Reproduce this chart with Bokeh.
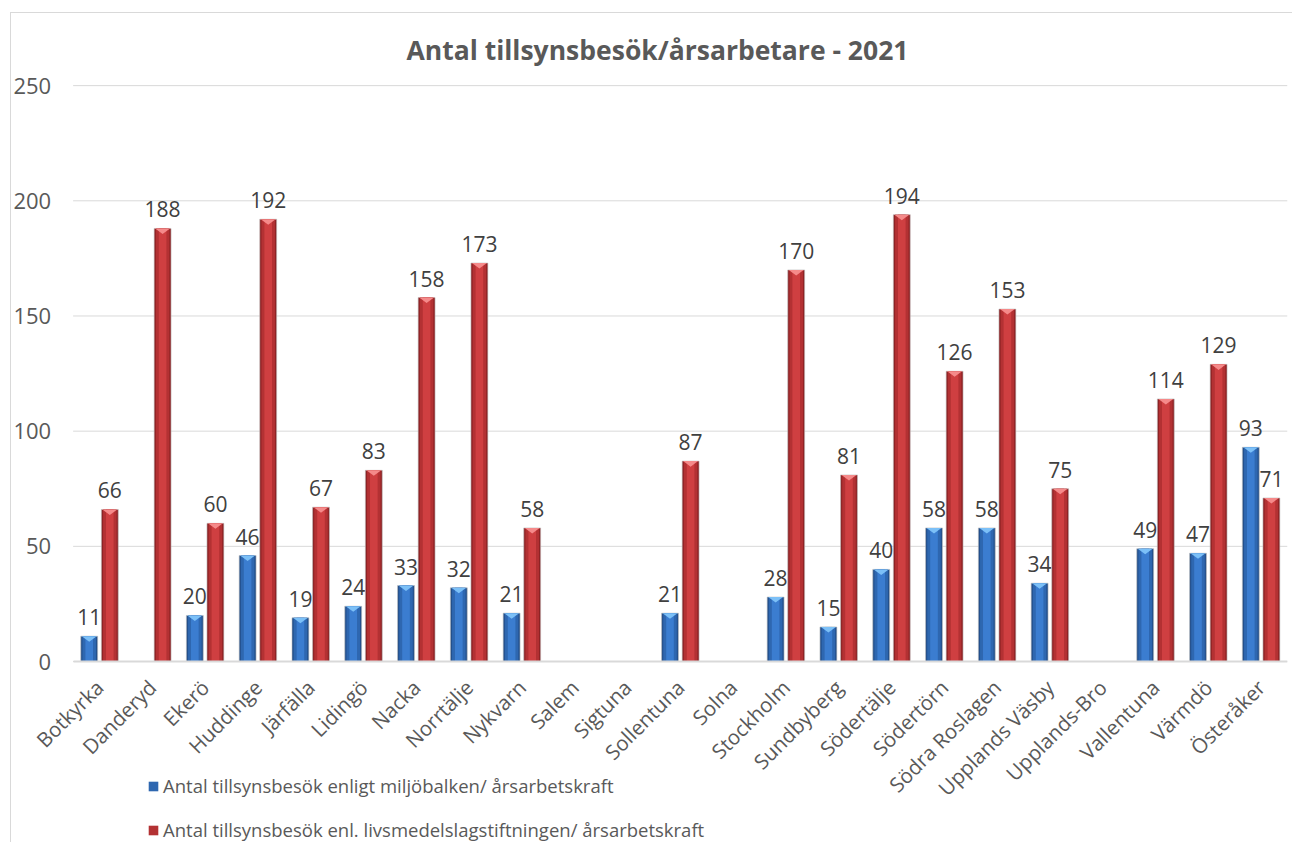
import numpy as np
from math import pi
from bokeh.plotting import figure
from bokeh.models import (ColumnDataSource, Range1d, FixedTicker, Legend, LegendItem)
from bokeh.core.properties import value
from bokeh.embed import file_html
from bokeh.resources import INLINE

categories = ["Botkyrka", "Danderyd", "Ekerö", "Huddinge", "Järfälla", "Lidingö", "Nacka",
              "Norrtälje", "Nykvarn", "Salem", "Sigtuna", "Sollentuna", "Solna", "Stockholm",
              "Sundbyberg", "Södertälje", "Södertörn", "Södra Roslagen", "Upplands Väsby",
              "Upplands-Bro", "Vallentuna", "Värmdö", "Österåker"]
miljo = [11, None, 20, 46, 19, 24, 33, 32, 21, None, None, 21, None, 28, 15, 40, 58, 58, 34,
         None, 49, 47, 93]
livs = [66, 188, 60, 192, 67, 83, 158, 173, 58, None, None, 87, None, 170, 81, 194, 126, 153,
        75, None, 114, 129, 71]
series_names = ["Antal tillsynsbesök enligt miljöbalken/ årsarbetskraft",
                "Antal tillsynsbesök enl. livsmedelslagstiftningen/ årsarbetskraft"]
y_ticks = [0, 50, 100, 150, 200, 250]

FONT = "Open Sans"
TXT = "#595959"
n = len(categories)

# frame covers the whole chart box; axes are pinned inside it
p = figure(width=1282, height=830, output_backend="svg", toolbar_location=None,
           x_range=Range1d(-1.667, n - 0.5), y_range=Range1d(-79, 257),
           min_border_left=0, min_border_right=6, min_border_top=56, min_border_bottom=0)
p.styles = {"margin-left": "10px", "margin-top": "12px",
            "border-left": "1px solid #d9d9d9", "border-top": "1px solid #d9d9d9"}
p.outline_line_color = None
p.background_fill_color = "white"

p.title.text = "Antal tillsynsbesök/årsarbetare - 2021"
p.title.align = "left"
p.title.offset = 395
p.title.text_font = FONT
p.title.text_font_size = "26.5px"
p.title.text_font_style = "bold"
p.title.text_color = TXT
p.title.standoff = 4

# horizontal gridlines over the plot area only
p.segment(x0=[-0.5] * len(y_ticks), x1=[n - 0.5] * len(y_ticks), y0=y_ticks, y1=y_ticks,
          line_color="#d9d9d9", line_width=1)

xs = np.arange(n)
off = 0.195
bw = 0.32

styles = [
    ("#23508c", "#2e67b0", "#3b7dd0", "#7cc0f7"),
    ("#8e2325", "#b33133", "#cf3f41", "#f58a8a"),
]

legend_items = []
for si, (vals, offs) in enumerate([(miljo, -off), (livs, off)]):
    edge, mid, center, tri = styles[si]
    v = np.array([np.nan if a is None else a for a in vals], dtype=float)
    mask = ~np.isnan(v)
    x = xs[mask] + offs
    top = v[mask]
    src = ColumnDataSource(dict(x=x, top=top, lab=[str(int(t)) for t in top]))
    p.vbar(x="x", top="top", width=bw, bottom=0, source=src, fill_color=edge,
           line_color="#bfbfbf", line_width=0.6)
    r = p.vbar(x="x", top="top", width=bw * 0.8, bottom=0, source=src, fill_color=mid,
               line_color=None)
    p.vbar(x="x", top="top", width=bw * 0.45, bottom=0, source=src, fill_color=center,
           line_color=None)
    th = 2.4
    tw = bw * 0.44
    p.patches(xs=[[xx - tw, xx + tw, xx] for xx in x],
              ys=[[t, t, t - th] for t in top], fill_color=tri, line_color=None)
    p.text(x="x", y="top", text="lab", source=src, text_align="center", text_baseline="bottom",
           y_offset=-11, text_font=value(FONT), text_font_size="21px", text_color="#404040")
    legend_items.append(LegendItem(label=series_names[si], renderers=[r]))

p.xgrid.grid_line_color = None
p.ygrid.grid_line_color = None

p.yaxis.fixed_location = -0.5
p.yaxis.bounds = (0, 250)
p.yaxis.ticker = FixedTicker(ticks=y_ticks)
p.yaxis.axis_line_color = None
p.yaxis.major_tick_line_color = None
p.yaxis.minor_tick_line_color = None
p.yaxis.major_label_standoff = 16
p.yaxis.major_label_text_font = FONT
p.yaxis.major_label_text_font_size = "22px"
p.yaxis.major_label_text_color = TXT

p.xaxis.fixed_location = 0
p.xaxis.bounds = (-0.5, n - 0.5)
p.xaxis.ticker = FixedTicker(ticks=list(range(n)))
p.xaxis.major_label_overrides = {i: c for i, c in enumerate(categories)}
p.xaxis.major_label_orientation = pi / 4
p.xaxis.axis_line_color = "#d9d9d9"
p.xaxis.axis_line_width = 2
p.xaxis.major_tick_line_color = None
p.xaxis.minor_tick_line_color = None
p.xaxis.major_label_standoff = 16
p.xaxis.major_label_text_font = FONT
p.xaxis.major_label_text_font_size = "20.5px"
p.xaxis.major_label_text_color = TXT

legend = Legend(items=legend_items, location=(136, 1), orientation="vertical",
                spacing=19, glyph_width=12, glyph_height=12, label_standoff=4,
                label_height=20, label_text_font=FONT, label_text_font_size="18.5px",
                label_text_color=TXT, border_line_color=None, background_fill_alpha=0,
                margin=0, padding=0)
p.add_layout(legend, "center")

open("out.html", "w").write(file_html(p, INLINE))
